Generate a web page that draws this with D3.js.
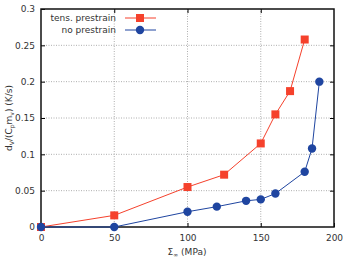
<!DOCTYPE html>
<html>
<head>
<meta charset="utf-8">
<script src="https://cdn.jsdelivr.net/npm/d3@7"></script>
<style>
  body { margin: 0; background: #fff; }
  text { font-family: "DejaVu Sans", sans-serif; fill: #333; }
</style>
</head>
<body>
<script>
const tensX = [0, 50, 100, 125, 150, 160, 170, 180];
const tensY = [0, 0.016, 0.055, 0.072, 0.115, 0.155, 0.187, 0.258];
const noX = [0, 50, 100, 120, 140, 150, 160, 180, 185, 190];
const noY = [0, 0, 0.021, 0.028, 0.036, 0.038, 0.046, 0.076, 0.108, 0.2];
const xTicks = [0, 50, 100, 150, 200];
const yTicks = [0, 0.05, 0.1, 0.15, 0.2, 0.25, 0.3];

const width = 344, height = 258;
const margin = {top: 9, right: 10, bottom: 31, left: 41};
const red = "#f5412c", blue = "#1f45a0";

const svg = d3.select("body").append("svg")
    .attr("width", width)
    .attr("height", height);

const x = d3.scaleLinear()
    .domain([0, 200])
    .range([margin.left, width - margin.right]);

const y = d3.scaleLinear()
    .domain([0, 0.3])
    .range([height - margin.bottom, margin.top]);

// grid
svg.append("g")
    .selectAll("line")
    .data(xTicks.slice(1, -1))
    .join("line")
    .attr("x1", d => x(d)).attr("x2", d => x(d))
    .attr("y1", y(0)).attr("y2", y(0.3))
    .attr("stroke", "#999").attr("stroke-width", 0.8)
    .attr("stroke-dasharray", "1,1.5");

svg.append("g")
    .selectAll("line")
    .data(yTicks.slice(1, -1))
    .join("line")
    .attr("x1", x(0)).attr("x2", x(200))
    .attr("y1", d => y(d)).attr("y2", d => y(d))
    .attr("stroke", "#999").attr("stroke-width", 0.8)
    .attr("stroke-dasharray", "1,1.5");

// axes
svg.append("g")
    .attr("transform", `translate(0,${y(0)})`)
    .call(d3.axisBottom(x).tickValues(xTicks).tickSize(-4).tickPadding(8).tickFormat(d3.format("d")))
    .call(g => g.select(".domain").remove())
    .call(g => g.selectAll("text").attr("font-size", 9).attr("fill", "#444"));

svg.append("g")
    .attr("transform", `translate(${x(0)},0)`)
    .call(d3.axisLeft(y).tickValues(yTicks).tickSize(-4).tickPadding(6).tickFormat(d => d === 0 ? "0" : String(+d.toFixed(2))))
    .call(g => g.select(".domain").remove())
    .call(g => g.selectAll("text").attr("font-size", 9).attr("fill", "#444"));

svg.append("g")
    .attr("transform", `translate(0,${y(0)})`)
    .call(d3.axisTop(x).tickValues(xTicks.slice(1, -1)).tickSize(0).tickFormat(""))
    .call(g => g.select(".domain").remove());

svg.append("g")
    .attr("transform", `translate(${x(200)},0)`)
    .call(d3.axisLeft(y).tickValues(yTicks.slice(1, -1)).tickSize(4).tickFormat(""))
    .call(g => g.select(".domain").remove());

svg.append("g")
    .attr("transform", `translate(0,${y(0.3)})`)
    .call(d3.axisBottom(x).tickValues(xTicks.slice(1, -1)).tickSize(4).tickFormat(""))
    .call(g => g.select(".domain").remove());

svg.append("rect")
    .attr("x", x(0)).attr("y", y(0.3))
    .attr("width", x(200) - x(0)).attr("height", y(0) - y(0.3))
    .attr("fill", "none").attr("stroke", "#111").attr("stroke-width", 1.5);

// series
const series = [
  {name: "tens. prestrain", xs: tensX, ys: tensY, color: red, shape: "square"},
  {name: "no prestrain", xs: noX, ys: noY, color: blue, shape: "circle"}
];

const line = d3.line().x(d => x(d[0])).y(d => y(d[1]));

function marker(g, shape, color) {
  if (shape === "square") {
    g.append("rect").attr("x", -4).attr("y", -4).attr("width", 8).attr("height", 8).attr("fill", color);
  } else {
    g.append("circle").attr("r", 4.2).attr("fill", color);
  }
}

series.forEach(s => {
  const pts = s.xs.map((v, i) => [v, s.ys[i]]);
  svg.append("path")
      .datum(pts)
      .attr("fill", "none")
      .attr("stroke", s.color)
      .attr("stroke-width", 1)
      .attr("d", line);
  pts.forEach(p => {
    marker(svg.append("g").attr("transform", `translate(${x(p[0])},${y(p[1])})`), s.shape, s.color);
  });
});

// legend
series.forEach((s, i) => {
  const ly = 18 + i * 12;
  svg.append("text")
      .attr("x", 116).attr("y", ly + 3)
      .attr("text-anchor", "end")
      .attr("font-size", 9)
      .text(s.name);
  svg.append("line")
      .attr("x1", 125).attr("x2", 156)
      .attr("y1", ly).attr("y2", ly)
      .attr("stroke", s.color).attr("stroke-width", 1);
  marker(svg.append("g").attr("transform", `translate(140,${ly})`), s.shape, s.color);
});

// axis labels
const xl = svg.append("text")
    .attr("x", 187).attr("y", 255)
    .attr("text-anchor", "middle")
    .attr("font-size", 9);
xl.append("tspan").text("Σ");
xl.append("tspan").attr("font-size", 6).attr("dy", 2).text("∞");
xl.append("tspan").attr("dy", -2).text(" (MPa)");

const yl = svg.append("text")
    .attr("transform", `translate(12,${(y(0) + y(0.3)) / 2}) rotate(-90)`)
    .attr("text-anchor", "middle")
    .attr("font-size", 9);
yl.append("tspan").text("d");
yl.append("tspan").attr("font-size", 6).attr("dy", 2).text("V");
yl.append("tspan").attr("dy", -2).text("/(C");
yl.append("tspan").attr("font-size", 6).attr("dy", 2).text("p");
yl.append("tspan").attr("dy", -2).text("m");
yl.append("tspan").attr("font-size", 6).attr("dy", 2).text("v");
yl.append("tspan").attr("dy", -2).text(") (K/s)");
</script>
</body>
</html>
